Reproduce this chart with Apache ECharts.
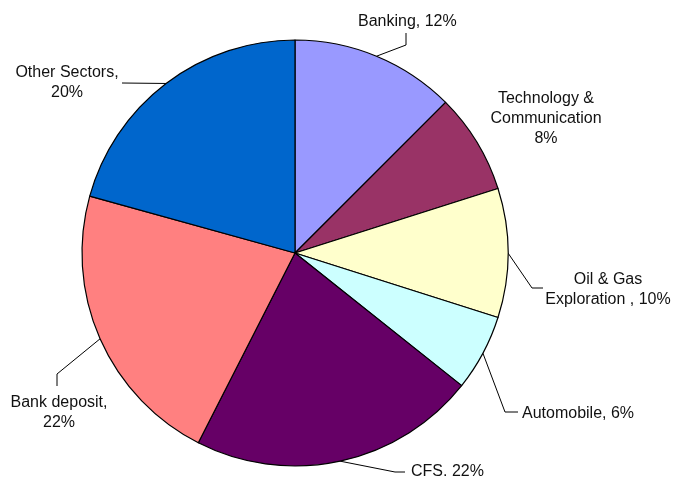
<!DOCTYPE html>
<html>
<head>
<meta charset="utf-8">
<script src="https://cdn.jsdelivr.net/npm/echarts@6/dist/echarts.min.js"></script>
<style>html,body{margin:0;padding:0;background:#fff;}#c{width:673px;height:480px;}</style>
</head>
<body>
<div id="c"></div>
<script>
// Data
var categories = ['Banking', 'Technology & Communication', 'Oil & Gas Exploration', 'Automobile', 'CFS', 'Bank deposit', 'Other Sectors'];
var values = [12.5, 7.6, 9.8, 5.8, 21.8, 21.8, 20.7];
var labelTexts = ['Banking, 12%', 'Technology &\nCommunication\n8%', 'Oil & Gas\nExploration , 10%', 'Automobile, 6%', 'CFS. 22%', 'Bank deposit,\n22%', 'Other Sectors,\n20%'];

// Styles / layout
var colors = ['#9999FF', '#993366', '#FFFFCC', '#CCFFFF', '#660066', '#FF8080', '#0066CC'];
var labelLayoutCfg = [
  {x: 358, y: 22, align: 'left', line: [[406, 45], [406, 33]]},
  {x: 546, y: 119, align: 'center', line: null},
  {x: 608, y: 290, align: 'center', line: [[532, 288], [543, 288]]},
  {x: 522, y: 414, align: 'left', line: [[505, 412], [518, 412]]},
  {x: 411, y: 472, align: 'left', line: [[395, 472], [405, 472]]},
  {x: 59, y: 413, align: 'center', line: [[57, 374], [57, 386]]},
  {x: 67, y: 83, align: 'center', line: [[122, 83]]}
];

var chart = echarts.init(document.getElementById('c'), null, {renderer: 'canvas'});
var center = [295, 253], radius = 213;

var data = categories.map(function (c, i) {
  return {
    name: c,
    value: values[i],
    itemStyle: {color: colors[i]},
    label: {formatter: labelTexts[i]},
    labelLine: {show: labelLayoutCfg[i].line !== null}
  };
});

// edge point from data
var total = values.reduce(function (a, b) { return a + b; }, 0);
function edgePoint(i) {
  var cum = 0;
  for (var k = 0; k < i; k++) cum += values[k];
  var mid = (cum + values[i] / 2) / total * Math.PI * 2;
  return [center[0] + radius * Math.sin(mid), center[1] - radius * Math.cos(mid)];
}

chart.setOption({
  animation: false,
  backgroundColor: '#fff',
  series: [{
    type: 'pie',
    center: center,
    radius: radius,
    startAngle: 90,
    clockwise: true,
    data: data,
    itemStyle: {borderColor: '#000', borderWidth: 1.2},
    label: {
      show: true,
      position: 'outside',
      color: '#111',
      fontFamily: 'Liberation Sans, Arial, sans-serif',
      fontSize: 16,
      lineHeight: 20,
      overflow: 'none',
      width: 200
    },
    labelLine: {show: true, lineStyle: {color: '#000', width: 1}, length: 10, length2: 10},
    emphasis: {disabled: true},
    labelLayout: function (params) {
      var cfg = labelLayoutCfg[params.dataIndex];
      var res = {x: cfg.x, y: cfg.y, align: cfg.align, verticalAlign: 'middle'};
      if (cfg.line) {
        res.labelLinePoints = [edgePoint(params.dataIndex)].concat(cfg.line);
      }
      return res;
    }
  }]
});
</script>
</body>
</html>
